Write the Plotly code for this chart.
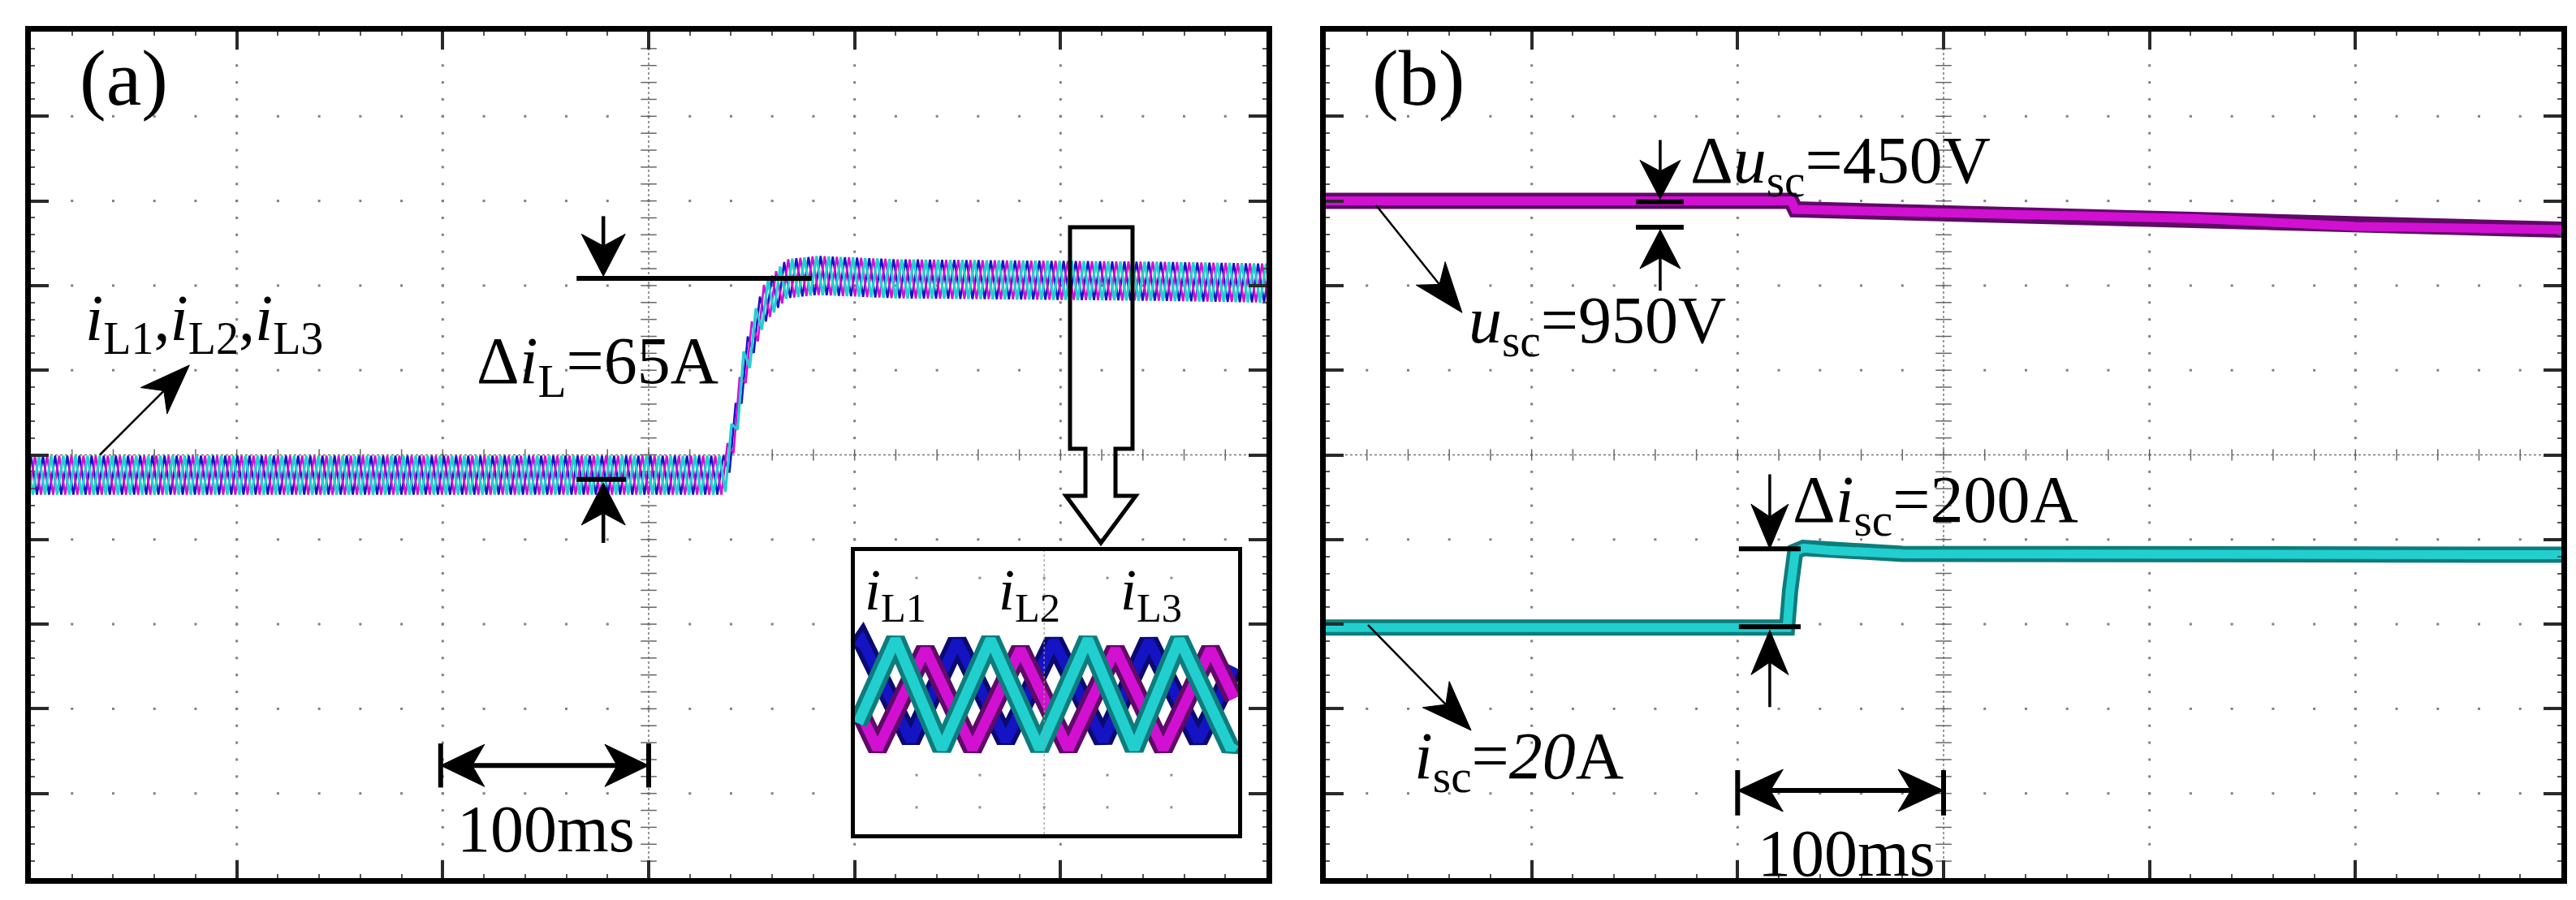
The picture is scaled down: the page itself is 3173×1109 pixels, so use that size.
import numpy as np
import plotly.graph_objects as go

W, H = 3173, 1109

# ---------------- data ----------------
# time in ms (100 ms / div); amplitude in screen divisions (0 = bottom, 10 = top)
iL_t      = [0, 337, 342, 346, 351, 356, 367, 382, 420, 550, 600]
iL_mean   = [4.76, 4.76, 5.34, 5.98, 6.43, 6.78, 7.08, 7.12, 7.08, 7.05, 7.03]
iL_ripple = 0.46      # peak-to-peak ripple of each phase current (div)
iL_period = 5.9       # apparent ripple period on screen (ms)
iL_phase  = [0.0, 1/3, 2/3]   # interleaving of L1, L2, L3

usc_t = [0, 226, 228, 296, 424, 500, 600]
usc_v = [8.0, 8.0, 7.9, 7.86, 7.79, 7.70, 7.66]

isc_t = [0, 224, 225.5, 228, 232, 245, 280, 600]
isc_v = [2.96, 2.96, 3.4, 3.86, 3.90, 3.87, 3.83, 3.82]

# zoomed inset (x: % of inset width, y: inset units 0..10)
inset_L1_x = [0.8, 1.9, 14.6, 26.7, 39.4, 51.9, 64.8, 76.7, 89.6, 99]
inset_L1_y = [6.60, 6.82, 3.30, 6.82, 3.30, 6.82, 3.30, 6.82, 3.30, 5.90]
inset_L2_x = [0.8, 10.6, 22.7, 35.4, 48.2, 60.8, 72.9, 84.7, 98.1, 99]
inset_L2_y = [3.92, 6.88, 3.01, 6.88, 3.01, 6.88, 3.01, 6.88, 3.01, 3.20]
inset_L3_x = [0.8, 5.9, 18.4, 30.7, 43.2, 55.7, 68.0, 80.5, 92.8, 99]
inset_L3_y = [4.46, 3.01, 6.53, 3.01, 6.53, 3.01, 6.53, 3.01, 6.53, 4.80]

# ---------------- colours / geometry ----------------
CYAN, CYAN_D = '#22CFCF', '#0E7C7C'
MAG, MAG_D = '#D210D2', '#5E0A66'
BLUE, BLUE_D = '#1414C4', '#0A0A70'
FONT = 'Liberation Serif, Times New Roman, serif'

XA = (30, 1552)     # panel (a) plot area, px
XB = (1625, 3147)   # panel (b)
YT, YB = 31, 1074
PXX = (XA[1] - XA[0]) / 600.0   # px per ms
PXY = (YB - YT) / 10.0          # px per div

fig = go.Figure()

def px_x(a, b):
    return [a / W, b / W]

def px_y(top, bottom):
    return [1 - bottom / H, 1 - top / H]

# ---------------- scope graticule ----------------
def add_graticule(xa, ya):
    xs, ys = [], []
    for yv in range(1, 10):
        if yv == 5:
            continue
        for xv in np.arange(20, 600, 20):
            xs.append(xv); ys.append(yv)
    for xv in range(100, 600, 100):
        if xv == 300:
            continue
        for yv in np.arange(0.2, 10, 0.2):
            xs.append(xv); ys.append(yv)
    fig.add_trace(go.Scatter(x=xs, y=ys, xaxis=xa, yaxis=ya, mode='markers',
                             marker=dict(symbol='square', size=3, color='#808080'),
                             hoverinfo='skip', showlegend=False))
    cx = list(np.arange(20, 600, 20))
    fig.add_trace(go.Scatter(x=cx, y=[5] * len(cx), xaxis=xa, yaxis=ya, mode='markers',
                             marker=dict(symbol='line-ns', size=10, line=dict(width=1.5, color='#666')),
                             hoverinfo='skip', showlegend=False))
    cy = list(np.arange(0.2, 10, 0.2))
    fig.add_trace(go.Scatter(x=[300] * len(cy), y=cy, xaxis=xa, yaxis=ya, mode='markers',
                             marker=dict(symbol='line-ew', size=14, line=dict(width=1.5, color='#666')),
                             hoverinfo='skip', showlegend=False))

add_graticule('x', 'y')
add_graticule('x2', 'y2')

# ---------------- panel (a): three interleaved inductor currents ----------------
for ph, col, lw in zip(iL_phase, [BLUE, MAG, CYAN], [2.6, 2.6, 3.2]):
    k = np.arange(-2, int(600 / (iL_period / 2)) + 4)
    tk = ph * iL_period + k * iL_period / 2
    sign = np.where(k % 2 == 0, 1.0, -1.0)
    yk = np.interp(tk, iL_t, iL_mean) + sign * iL_ripple / 2
    fig.add_trace(go.Scatter(x=tk, y=yk, xaxis='x', yaxis='y', mode='lines',
                             line=dict(color=col, width=lw), hoverinfo='skip', showlegend=False))

# ---------------- panel (b): u_sc and i_sc ----------------
for tt, vv, c1, c2 in [(usc_t, usc_v, MAG_D, MAG), (isc_t, isc_v, CYAN_D, CYAN)]:
    fig.add_trace(go.Scatter(x=tt, y=vv, xaxis='x2', yaxis='y2', mode='lines',
                             line=dict(color=c1, width=20), hoverinfo='skip', showlegend=False))
    fig.add_trace(go.Scatter(x=tt, y=vv, xaxis='x2', yaxis='y2', mode='lines',
                             line=dict(color=c2, width=11), hoverinfo='skip', showlegend=False))

# ---------------- inset ----------------
fig.add_trace(go.Scatter(x=[0, 100, 100, 0, 0], y=[0, 0, 10, 10, 0], xaxis='x3', yaxis='y3',
                         fill='toself', fillcolor='white', mode='lines', line=dict(width=0),
                         hoverinfo='skip', showlegend=False))
ix, iy = [], []
for xv in [16.1, 32.6, 49.4, 65.9, 82.6]:
    for yv in [9.05, 2.09, 0.95]:
        ix.append(xv); iy.append(yv)
fig.add_trace(go.Scatter(x=ix, y=iy, xaxis='x3', yaxis='y3', mode='markers',
                         marker=dict(symbol='square', size=3, color='#909090'),
                         hoverinfo='skip', showlegend=False))
for xx, yy, c1, c2 in [(inset_L1_x, inset_L1_y, BLUE_D, BLUE),
                       (inset_L3_x, inset_L3_y, MAG_D, MAG),
                       (inset_L2_x, inset_L2_y, CYAN_D, CYAN)]:
    fig.add_trace(go.Scatter(x=xx, y=yy, xaxis='x3', yaxis='y3', mode='lines',
                             line=dict(color=c1, width=24), hoverinfo='skip', showlegend=False))
    fig.add_trace(go.Scatter(x=xx, y=yy, xaxis='x3', yaxis='y3', mode='lines',
                             line=dict(color=c2, width=13), hoverinfo='skip', showlegend=False))

# ---------------- axes ----------------
def scope_axis(domain, rng, dtick, mdt, anchor):
    return dict(domain=domain, range=rng, anchor=anchor, showgrid=False, zeroline=False,
                showticklabels=False, ticks='inside', tickmode='linear', tick0=0, dtick=dtick,
                ticklen=22, tickwidth=3.5, tickcolor='#2a2a2a',
                minor=dict(ticks='inside', tickmode='linear', tick0=0, dtick=mdt, ticklen=5,
                           tickwidth=2, tickcolor='#555', showgrid=False),
                showline=True, linewidth=7, linecolor='black', mirror='allticks', fixedrange=True)

ydom = px_y(YT, YB)
fig.update_layout(
    width=W, height=H, margin=dict(l=0, r=0, t=0, b=0),
    paper_bgcolor='white', plot_bgcolor='white', showlegend=False,
    xaxis=scope_axis(px_x(*XA), [0, 600], 100, 20, 'y'),
    yaxis=scope_axis(ydom, [0, 10], 1, 0.2, 'x'),
    xaxis2=scope_axis(px_x(*XB), [0, 600], 100, 20, 'y2'),
    yaxis2=scope_axis(ydom, [0, 10], 1, 0.2, 'x2'),
    xaxis3=dict(domain=px_x(1045, 1517), range=[0, 100], anchor='y3', showgrid=False,
                zeroline=False, showticklabels=False, ticks='', showline=True, linewidth=5,
                linecolor='black', mirror=True, fixedrange=True),
    yaxis3=dict(domain=px_y(671, 1020), range=[0, 10], anchor='x3', showgrid=False,
                zeroline=False, showticklabels=False, ticks='', showline=True, linewidth=5,
                linecolor='black', mirror=True, fixedrange=True),
)

# ---------------- shapes ----------------
shapes = []
for xr, yr in [('x', 'y'), ('x2', 'y2')]:
    shapes.append(dict(type='line', xref=xr, yref=yr, x0=0, x1=600, y0=5, y1=5,
                       line=dict(color='#777', width=1.5, dash='dot'), layer='below'))
    shapes.append(dict(type='line', xref=xr, yref=yr, x0=300, x1=300, y0=0, y1=10,
                       line=dict(color='#777', width=1.5, dash='dot'), layer='below'))
shapes.append(dict(type='line', xref='x3', yref='y3', x0=49.4, x1=49.4, y0=0, y1=10,
                   line=dict(color='#999', width=1.2, dash='dot')))

def seg(xr, yr, x0, x1, y0, y1, w=6):
    return dict(type='line', xref=xr, yref=yr, x0=x0, x1=x1, y0=y0, y1=y1,
                line=dict(color='black', width=w), layer='above')

shapes += [
    seg('x', 'y', 265, 379, 7.085, 7.085),
    seg('x', 'y', 265, 289, 4.71, 4.71),
    seg('x', 'y', 199, 199, 1.07, 1.59),
    seg('x', 'y', 300, 300, 1.07, 1.59),
    seg('x2', 'y2', 150.6, 173.8, 7.99, 7.99),
    seg('x2', 'y2', 150.6, 173.8, 7.69, 7.69),
    seg('x2', 'y2', 200.6, 230.6, 3.89, 3.89),
    seg('x2', 'y2', 200.6, 230.6, 2.97, 2.97),
    seg('x2', 'y2', 200, 200, 0.74, 1.275),
    seg('x2', 'y2', 300, 300, 0.74, 1.275),
]

# hollow zoom arrow pointing to the inset (px -> data)
def ax_ms(px):
    return (px - XA[0]) / PXX

def ay_div(py):
    return (YB - py) / PXY

hollow = [(1310, 272), (1387, 272), (1387, 545), (1366, 545), (1366, 603), (1391, 603),
          (1348, 661), (1305, 603), (1329, 603), (1329, 545), (1310, 545)]
path = 'M ' + ' L '.join(f'{ax_ms(px):.3f},{ay_div(py):.4f}' for px, py in hollow) + ' Z'
shapes.append(dict(type='path', xref='x', yref='y', path=path,
                   line=dict(color='black', width=5), fillcolor='rgba(0,0,0,0)', layer='above'))

# solid arrows (shaft + concave head), sizes in px
def arrow(xr, yr, tip, tail, w, L, Wd, both=False):
    def head(tp, tl):
        dx = (tp[0] - tl[0]) * PXX
        dy = (tp[1] - tl[1]) * PXY
        n = np.hypot(dx, dy)
        ux, uy = dx / n, dy / n
        nx, ny = -uy, ux
        tx, ty = tp[0] * PXX, tp[1] * PXY
        bx, by = tx - ux * L, ty - uy * L
        kx, ky = tx - ux * L * 0.72, ty - uy * L * 0.72
        pts = [(tx, ty), (bx + nx * Wd / 2, by + ny * Wd / 2), (kx, ky), (bx - nx * Wd / 2, by - ny * Wd / 2)]
        p = 'M ' + ' L '.join(f'{a / PXX:.4f},{b / PXY:.5f}' for a, b in pts) + ' Z'
        shapes.append(dict(type='path', xref=xr, yref=yr, path=p, fillcolor='black',
                           line=dict(color='black', width=1), layer='above'))
        return (kx / PXX, ky / PXY)
    end = head(tip, tail)
    start = head(tail, tip) if both else tail
    shapes.append(dict(type='line', xref=xr, yref=yr, x0=start[0], y0=start[1], x1=end[0], y1=end[1],
                       line=dict(color='black', width=w), layer='above'))

arrow('x', 'y', (278, 7.11), (278, 7.82), 4.5, 52, 54)
arrow('x', 'y', (278, 4.67), (278, 3.96), 4.5, 52, 54)
arrow('x', 'y', (77, 6.06), (33.5, 5.0), 2.5, 62, 46)
arrow('x', 'y', (300, 1.33), (199, 1.33), 6, 54, 52, both=True)
arrow('x2', 'y2', (162.4, 8.02), (162.4, 8.72), 3.5, 48, 50)
arrow('x2', 'y2', (162.4, 7.66), (162.4, 6.94), 3.5, 48, 50)
arrow('x2', 'y2', (66.2, 6.68), (24.4, 7.95), 2.5, 62, 46)
arrow('x2', 'y2', (215.6, 3.89), (215.6, 4.77), 3.5, 55, 46)
arrow('x2', 'y2', (215.6, 2.93), (215.6, 2.02), 3.5, 55, 46)
arrow('x2', 'y2', (70.6, 1.745), (20.5, 2.99), 2.5, 62, 46)
arrow('x2', 'y2', (300, 1.035), (200, 1.035), 6, 56, 52, both=True)

fig.update_layout(shapes=shapes)

# ---------------- annotations ----------------
ann = []

def text(xr, yr, x, y, s, size=82):
    ann.append(dict(xref=xr, yref=yr, x=x, y=y, text=s, showarrow=False,
                    xanchor='center', yanchor='middle', font=dict(family=FONT, size=size, color='black')))

text('x', 'y', 45, 9.45, '(a)', 98)
text('x2', 'y2', 45, 9.45, '(b)', 98)
text('x', 'y', 84, 6.56, '<i>i</i><sub>L1</sub>,<i>i</i><sub>L2</sub>,<i>i</i><sub>L3</sub>', 80)
text('x', 'y', 275, 6.06, 'Δ<i>i</i><sub>L</sub>=65A')
text('x', 'y', 250, 0.58, '100ms')
text('x', 'y', 420, 3.36, '<i>i</i><sub>L1</sub>', 72)
text('x', 'y', 485, 3.36, '<i>i</i><sub>L2</sub>', 72)
text('x', 'y', 544, 3.36, '<i>i</i><sub>L3</sub>', 72)
text('x2', 'y2', 250, 8.43, 'Δ<i>u</i><sub>sc</sub>=450V')
text('x2', 'y2', 132, 6.54, '<i>u</i><sub>sc</sub>=950V')
text('x2', 'y2', 296, 4.42, 'Δ<i>i</i><sub>sc</sub>=200A')
text('x2', 'y2', 94, 1.39, '<i>i</i><sub>sc</sub>=<i>20</i>A')
text('x2', 'y2', 253, 0.29, '100ms')

fig.update_layout(annotations=ann)
fig.write_html('out.html')
